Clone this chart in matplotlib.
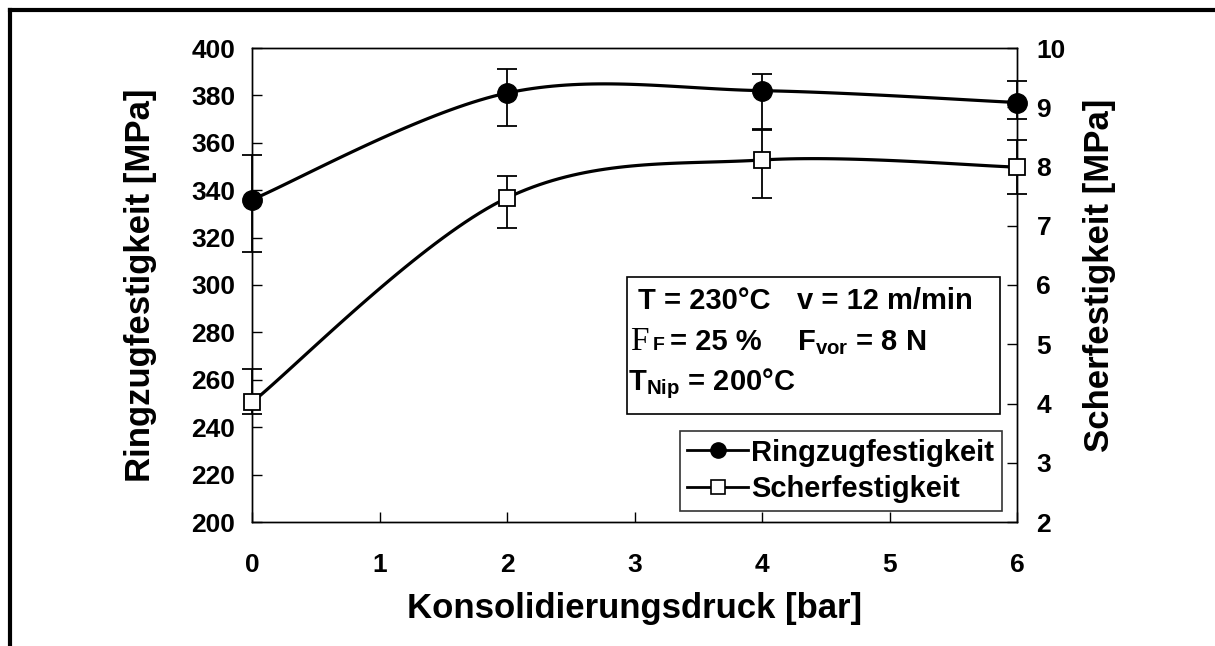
import matplotlib
matplotlib.use("Agg")
import matplotlib.pyplot as plt
import numpy as np
from matplotlib.lines import Line2D

plt.rcParams["font.family"] = ["Liberation Sans", "DejaVu Sans"]
plt.rcParams["font.weight"] = "bold"
plt.rcParams["mathtext.fontset"] = "custom"
plt.rcParams["mathtext.rm"] = "Liberation Sans:bold"
plt.rcParams["mathtext.it"] = "Liberation Sans:bold"
plt.rcParams["mathtext.bf"] = "Liberation Sans:bold"

# Daten
druck = [0, 2, 4, 6]
ring = [336, 381, 382, 377]
ring_err_unten = [22, 14, 16, 7]
ring_err_oben = [19, 10, 7, 9]
scher = [4.02, 7.47, 8.11, 7.99]
scher_err_unten = [0.20, 0.50, 0.65, 0.45]
scher_err_oben = [0.56, 0.37, 0.50, 0.45]

x_ticks = [0, 1, 2, 3, 4, 5, 6]
y1_ticks = list(range(200, 401, 20))
y2_ticks = list(range(2, 11))


def glatt(xs, ys, n=40):
    # Bezier-Glaettung wie bei Excel (Catmull-Rom)
    p = np.column_stack([xs, ys]).astype(float)
    p = np.vstack([p[0], p, p[-1]])
    out = []
    for i in range(1, len(p) - 2):
        p0, p1, p2, p3 = p[i - 1], p[i], p[i + 1], p[i + 2]
        c1 = p1 + (p2 - p0) / 6
        c2 = p2 - (p3 - p1) / 6
        t = np.linspace(0, 1, n)[:, None]
        seg = ((1 - t) ** 3) * p1 + 3 * ((1 - t) ** 2) * t * c1 + 3 * (1 - t) * t ** 2 * c2 + t ** 3 * p2
        out.append(seg)
    out = np.vstack(out)
    return out[:, 0], out[:, 1]


fig = plt.figure(figsize=(12.15, 6.46), dpi=100)
ax = fig.add_axes([252 / 1215, 124 / 646, 765 / 1215, 474 / 646])
ax2 = ax.twinx()

# Rahmen um das Bild
fig.add_artist(Line2D([10 / 1215, 10 / 1215], [0, 1 - 10 / 646], transform=fig.transFigure, color="black", lw=3))
fig.add_artist(Line2D([10 / 1215, 1], [1 - 10 / 646, 1 - 10 / 646], transform=fig.transFigure, color="black", lw=3))

gx, gy = glatt(druck, ring)
ax.plot(gx, gy, color="black", lw=2.3, zorder=3)
ax.errorbar(druck, ring, yerr=[ring_err_unten, ring_err_oben], fmt="none", ecolor="black",
            elinewidth=1.3, capsize=7, capthick=1.3, zorder=4, clip_on=False)
ax.plot(druck, ring, "o", color="black", ms=14, zorder=5, clip_on=False)

gx2, gy2 = glatt(druck, scher)
ax2.plot(gx2, gy2, color="black", lw=2.3, zorder=3)
ax2.errorbar(druck, scher, yerr=[scher_err_unten, scher_err_oben], fmt="none", ecolor="black",
             elinewidth=1.3, capsize=7, capthick=1.3, zorder=4, clip_on=False)
ax2.plot(druck, scher, "s", mfc="white", mec="black", mew=1.3, ms=12, zorder=5, clip_on=False)

ax.set_xlim(0, 6)
ax.set_ylim(200, 400)
ax2.set_ylim(2, 10)
ax.set_xticks(x_ticks)
ax.set_yticks(y1_ticks)
ax2.set_yticks(y2_ticks)

for a in (ax, ax2):
    for s in a.spines.values():
        s.set_linewidth(1.0)
ax.tick_params(axis="both", direction="in", length=7, width=1, labelsize=19)
ax.tick_params(axis="x", pad=22)
ax.tick_params(axis="y", pad=12)
ax2.tick_params(axis="y", direction="in", length=7, width=1, labelsize=19, pad=14)

ax.set_xlabel("Konsolidierungsdruck [bar]", fontsize=25, fontweight="bold")
ax.set_ylabel("Ringzugfestigkeit [MPa]", fontsize=25, fontweight="bold")
ax2.set_ylabel("Scherfestigkeit [MPa]", fontsize=25, fontweight="bold")
ax.xaxis.set_label_coords(0.5, -0.182)
ax.xaxis.label.set_va("center")
ax.yaxis.set_label_coords(-0.146, 0.5)
ax.yaxis.label.set_va("center")
ax2.yaxis.set_label_coords(1.108, 0.52)
ax2.yaxis.label.set_va("center")

# Textkasten mit Prozessparametern
box = plt.Rectangle((0.490, 0.228), 0.488, 0.289, transform=ax2.transAxes, fill=True,
                    facecolor="white", edgecolor="black", lw=1.2, zorder=6)
ax2.add_patch(box)
fs = 21
ax2.text(0.505, 0.450, "T = 230°C", transform=ax2.transAxes, fontsize=fs, va="baseline", zorder=7)
ax2.text(0.713, 0.450, "v = 12 m/min", transform=ax2.transAxes, fontsize=fs, va="baseline", zorder=7)
ax2.text(0.494, 0.363, "F", transform=ax2.transAxes, fontsize=24, fontweight="normal",
         family="Liberation Serif", va="baseline", zorder=7)
ax2.text(0.524, 0.363, "F", transform=ax2.transAxes, fontsize=14, va="baseline", zorder=7)
ax2.text(0.546, 0.363, "= 25 %", transform=ax2.transAxes, fontsize=fs, va="baseline", zorder=7)
ax2.text(0.713, 0.363, "F$_{\\mathrm{vor}}$ = 8 N", transform=ax2.transAxes, fontsize=fs,
         va="baseline", zorder=7)
ax2.text(0.491, 0.278, "T$_{\\mathrm{Nip}}$ = 200°C", transform=ax2.transAxes, fontsize=fs,
         va="baseline", zorder=7)

h1 = Line2D([], [], color="black", lw=2, marker="o", ms=11)
h2 = Line2D([], [], color="black", lw=2, marker="s", ms=10, mfc="white", mew=1.2)
leg = ax2.legend([h1, h2], ["Ringzugfestigkeit", "Scherfestigkeit"], loc="lower right",
                 bbox_to_anchor=(0.98, 0.024), fontsize=21, frameon=True, fancybox=False,
                 edgecolor="black", handlelength=2.1, handletextpad=0.1, borderpad=0.25,
                 labelspacing=0.3, borderaxespad=0)
leg.get_frame().set_linewidth(1.2)
leg.set_zorder(8)

fig.savefig("out.png", dpi=100)
